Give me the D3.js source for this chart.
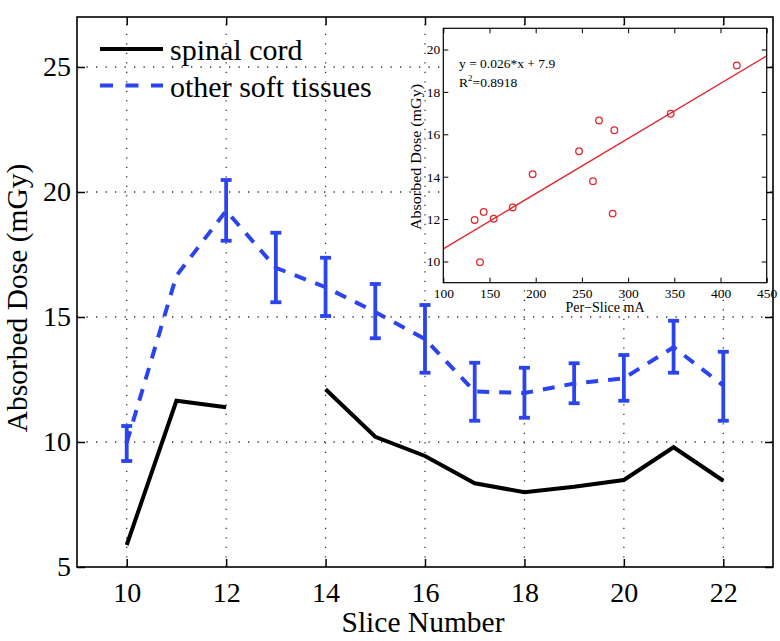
<!DOCTYPE html>
<html>
<head>
<meta charset="utf-8">
<script src="https://cdn.jsdelivr.net/npm/d3@7"></script>
<style>
  html, body { margin: 0; padding: 0; background: #fff; }
  svg { display: block; }
  svg text { font-family: "Liberation Serif", "Times New Roman", serif !important; fill: #000; }
</style>
</head>
<body>
<svg id="chart" width="780" height="641"></svg>
<script>
// ---------- Main chart data ----------
const slices = [10, 11, 12, 13, 14, 15, 16, 17, 18, 19, 20, 21, 22];
const spinalCord = [5.88, 11.65, 11.39, null, 12.11, 10.21, 9.44, 8.35, 7.99, 8.21, 8.48, 9.79, 8.45];
const softTissue = [9.97, 16.65, 19.25, 16.97, 16.19, 15.2, 14.12, 12.02, 11.96, 12.34, 12.55, 13.79, 12.26];
const softHigh = [10.64, null, 20.48, 18.37, 17.37, 16.32, 15.48, 13.17, 12.97, 13.15, 13.48, 14.85, 13.61];
const softLow  = [9.24, null, 18.05, 15.59, 15.04, 14.15, 12.77, 10.85, 10.97, 11.55, 11.65, 12.77, 10.85];
const xTicks = [10, 12, 14, 16, 18, 20, 22];
const yTicks = [5, 10, 15, 20, 25];
const seriesNames = ["spinal cord", "other soft tissues"];

// ---------- Inset data ----------
const insetMA = [133.9, 139.7, 143.7, 154.5, 175.1, 196.7, 246.9, 262.0, 268.5, 283.3, 285.1, 346.1, 417.6];
const insetDose = [11.96, 9.97, 12.34, 12.02, 12.55, 14.12, 15.2, 13.79, 16.65, 12.26, 16.19, 16.97, 19.25];
const fitX = [100, 450];
const fitY = [10.6, 19.7];
const insetXTicks = [100, 150, 200, 250, 300, 350, 400, 450];
const insetYTicks = [10, 12, 14, 16, 18, 20];
const fitLabels = ["y = 0.026*x + 7.9", "0.8918"];

const svg = d3.select("#chart");
const BLUE = "#2b44ee";
const RED = "#e0282e";
const SERIF = "'Liberation Serif', 'Times New Roman', serif";

// ---------- Main plot ----------
const M = { left: 77, right: 773, top: 17, bottom: 567 };
const x = d3.scaleLinear().domain([9, 23]).range([M.left, M.right]);
const y = d3.scaleLinear().domain([5, 27]).range([M.bottom, M.top]);

const grid = svg.append("g").attr("stroke", "#333").attr("stroke-width", 1.3)
  .attr("stroke-dasharray", "1.3,8.2");
grid.selectAll("line.vx").data(xTicks).join("line")
  .attr("x1", d => x(d)).attr("x2", d => x(d))
  .attr("y1", M.bottom).attr("y2", M.top);
grid.selectAll("line.hy").data(yTicks.filter(d => d > 5)).join("line")
  .attr("x1", M.left).attr("x2", M.right)
  .attr("y1", d => y(d)).attr("y2", d => y(d));

const rows = slices.map((s, i) => ({
  s, sc: spinalCord[i], st: softTissue[i], hi: softHigh[i], lo: softLow[i]
}));

// spinal cord line
svg.append("path")
  .datum(rows)
  .attr("fill", "none").attr("stroke", "#000").attr("stroke-width", 4)
  .attr("stroke-linejoin", "miter")
  .attr("d", d3.line().defined(d => d.sc != null).x(d => x(d.s)).y(d => y(d.sc)));

// soft tissue dashed line
svg.append("path")
  .datum(rows)
  .attr("fill", "none").attr("stroke", BLUE).attr("stroke-width", 4)
  .attr("stroke-dasharray", "12,10")
  .attr("d", d3.line().x(d => x(d.s)).y(d => y(d.st)));

// error bars
const eb = svg.append("g").attr("stroke", BLUE).attr("stroke-width", 3.8);
const ebRows = rows.filter(d => d.hi != null);
eb.selectAll("line.v").data(ebRows).join("line")
  .attr("x1", d => x(d.s)).attr("x2", d => x(d.s))
  .attr("y1", d => y(d.hi)).attr("y2", d => y(d.lo));
eb.selectAll("line.t").data(ebRows).join("line")
  .attr("x1", d => x(d.s) - 5.5).attr("x2", d => x(d.s) + 5.5)
  .attr("y1", d => y(d.hi)).attr("y2", d => y(d.hi));
eb.selectAll("line.b").data(ebRows).join("line")
  .attr("x1", d => x(d.s) - 5.5).attr("x2", d => x(d.s) + 5.5)
  .attr("y1", d => y(d.lo)).attr("y2", d => y(d.lo));

// axes
const axFont = 28;
const gx = svg.append("g").attr("transform", `translate(0,${M.bottom})`)
  .call(d3.axisBottom(x).tickValues(xTicks).tickSizeInner(-8).tickSizeOuter(0).tickPadding(15));
const gy = svg.append("g").attr("transform", `translate(${M.left},0)`)
  .call(d3.axisLeft(y).tickValues(yTicks).tickSizeInner(-8).tickSizeOuter(0).tickPadding(6));
const gt = svg.append("g").attr("transform", `translate(0,${M.top})`)
  .call(d3.axisTop(x).tickValues(xTicks).tickSizeInner(-8).tickSizeOuter(0).tickFormat(""));
const gr = svg.append("g").attr("transform", `translate(${M.right},0)`)
  .call(d3.axisRight(y).tickValues(yTicks).tickSizeInner(-8).tickSizeOuter(0).tickFormat(""));
[gx, gy, gt, gr].forEach(g => {
  g.attr("font-family", null).attr("font-size", null);
  g.select(".domain").remove();
  g.selectAll(".tick line").attr("stroke", "#000").attr("stroke-width", 1.5);
  g.selectAll("text").style("font-family", SERIF)
    .attr("font-size", axFont).attr("fill", "#000");
});
svg.append("rect")
  .attr("x", M.left).attr("y", M.top)
  .attr("width", M.right - M.left).attr("height", M.bottom - M.top)
  .attr("fill", "none").attr("stroke", "#000").attr("stroke-width", 1.6);

svg.append("text").attr("x", 423).attr("y", 632).attr("text-anchor", "middle")
  .style("font-family", SERIF).attr("font-size", 29.5).text("Slice Number");
svg.append("text").attr("transform", "translate(27,298) rotate(-90)")
  .style("font-family", SERIF)
  .attr("text-anchor", "middle").attr("font-size", 29.5).text("Absorbed Dose (mGy)");

// legend
svg.append("line").attr("x1", 100).attr("x2", 163).attr("y1", 49).attr("y2", 49)
  .attr("stroke", "#000").attr("stroke-width", 4);
svg.append("line").attr("x1", 100).attr("x2", 163).attr("y1", 85.5).attr("y2", 85.5)
  .attr("stroke", BLUE).attr("stroke-width", 4).attr("stroke-dasharray", "13,12.5");
svg.append("text").attr("x", 170).attr("y", 60).style("font-family", SERIF)
  .attr("font-size", 30).text(seriesNames[0]);
svg.append("text").attr("x", 170).attr("y", 96.5).style("font-family", SERIF)
  .attr("font-size", 30).text(seriesNames[1]);

// ---------- Inset ----------
const I = { left: 443.3, right: 766.7, top: 28.3, bottom: 282.7 };
const ix = d3.scaleLinear().domain([100, 450]).range([I.left, I.right]);
const iy = d3.scaleLinear().domain([9, 21]).range([I.bottom, I.top]);

svg.append("rect")
  .attr("x", I.left).attr("y", I.top)
  .attr("width", I.right - I.left).attr("height", I.bottom - I.top)
  .attr("fill", "#fff");

svg.append("path")
  .datum(fitX.map((v, i) => [v, fitY[i]]))
  .attr("fill", "none").attr("stroke", RED).attr("stroke-width", 1.4)
  .attr("d", d3.line().x(d => ix(d[0])).y(d => iy(d[1])));

svg.append("g").selectAll("circle").data(insetMA.map((v, i) => [v, insetDose[i]])).join("circle")
  .attr("cx", d => ix(d[0])).attr("cy", d => iy(d[1])).attr("r", 3.3)
  .attr("fill", "none").attr("stroke", RED).attr("stroke-width", 1.3);

const iFont = 13.5;
const igx = svg.append("g").attr("transform", `translate(0,${I.bottom})`)
  .call(d3.axisBottom(ix).tickValues(insetXTicks).tickSizeInner(-5).tickSizeOuter(0).tickPadding(6));
const igy = svg.append("g").attr("transform", `translate(${I.left},0)`)
  .call(d3.axisLeft(iy).tickValues(insetYTicks).tickSizeInner(-5).tickSizeOuter(0).tickPadding(3));
const igt = svg.append("g").attr("transform", `translate(0,${I.top})`)
  .call(d3.axisTop(ix).tickValues(insetXTicks).tickSizeInner(-5).tickSizeOuter(0).tickFormat(""));
const igr = svg.append("g").attr("transform", `translate(${I.right},0)`)
  .call(d3.axisRight(iy).tickValues(insetYTicks).tickSizeInner(-5).tickSizeOuter(0).tickFormat(""));
[igx, igy, igt, igr].forEach(g => {
  g.attr("font-family", null).attr("font-size", null);
  g.select(".domain").remove();
  g.selectAll(".tick line").attr("stroke", "#000").attr("stroke-width", 1);
  g.selectAll("text").style("font-family", SERIF)
    .attr("font-size", iFont).attr("fill", "#000");
});
svg.append("rect")
  .attr("x", I.left).attr("y", I.top)
  .attr("width", I.right - I.left).attr("height", I.bottom - I.top)
  .attr("fill", "none").attr("stroke", "#000").attr("stroke-width", 1.2);

svg.append("text").attr("x", 605).attr("y", 312).attr("text-anchor", "middle")
  .style("font-family", SERIF).attr("font-size", 14).text("Per\u2212Slice mA");
svg.append("text").attr("transform", "translate(421,157) rotate(-90)")
  .style("font-family", SERIF)
  .attr("text-anchor", "middle").attr("font-size", 14.5)
  .attr("textLength", 146).attr("lengthAdjust", "spacingAndGlyphs")
  .text("Absorbed Dose (mGy)");

svg.append("text").attr("x", 459).attr("y", 67.5).style("font-family", SERIF)
  .attr("font-size", 13.5).text(fitLabels[0]);
const r2 = svg.append("text").attr("x", 459).attr("y", 86.5).style("font-family", SERIF)
  .attr("font-size", 13.5);
r2.append("tspan").text("R");
r2.append("tspan").attr("font-size", 9).attr("dy", -6).text("2");
r2.append("tspan").attr("dy", 6).text("=" + fitLabels[1]);
</script>
</body>
</html>
